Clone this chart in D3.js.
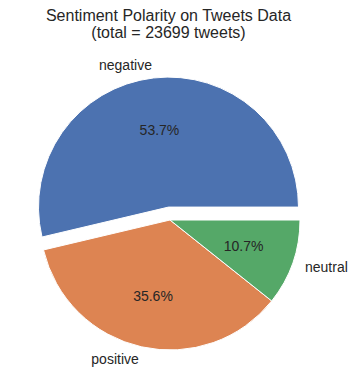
<!DOCTYPE html>
<html>
<head>
<meta charset="utf-8">
<script src="https://cdn.jsdelivr.net/npm/d3@7"></script>
<style>
html, body { margin: 0; padding: 0; background: #ffffff; }
svg { display: block; }
text { font-family: "Liberation Sans", Arial, sans-serif; fill: #262626; }
</style>
</head>
<body>
<div id="chart"></div>
<script>
const categories = ["negative", "positive", "neutral"];
const counts = [12726, 8437, 2536];
const colors = ["#4C72B0", "#DD8452", "#55A868"];
const explode = [0.1, 0, 0];
const titleLines = ["Sentiment Polarity on Tweets Data", "(total = 23699 tweets)"];

const W = 355, H = 390;
const cx = 170, cy = 220, R = 130;

const svg = d3.select("#chart").append("svg").attr("width", W).attr("height", H);

svg.append("text")
  .attr("x", 168.5).attr("y", 20.5)
  .attr("text-anchor", "middle")
  .style("font-size", "16px")
  .text(titleLines[0]);
svg.append("text")
  .attr("x", 168.5).attr("y", 37.5)
  .attr("text-anchor", "middle")
  .style("font-size", "16px")
  .text(titleLines[1]);

const total = d3.sum(counts);
const data = categories.map((c, i) => ({ name: c, value: counts[i], color: colors[i], explode: explode[i] }));

// matplotlib: start at 3 o'clock, counterclockwise
const pie = d3.pie().value(d => d.value).sort(null)
  .startAngle(Math.PI / 2).endAngle(Math.PI / 2 - 2 * Math.PI);
const arcs = pie(data);
const arc = d3.arc().innerRadius(0).outerRadius(R);

const g = svg.append("g").attr("transform", `translate(${cx},${cy})`);

arcs.forEach(a => {
  const mid = (a.startAngle + a.endAngle) / 2;
  const ux = Math.sin(mid), uy = -Math.cos(mid);
  const off = a.data.explode * R;
  const ox = ux * off, oy = uy * off;
  const wg = g.append("g").attr("transform", `translate(${ox},${oy})`);
  wg.append("path")
    .attr("d", arc(a))
    .attr("fill", a.data.color)
    .attr("stroke", "#ffffff")
    .attr("stroke-width", 1)
    .attr("stroke-linejoin", "round");
  // category label at 1.1 R
  const lx = ux * R * 1.1, ly = uy * R * 1.1;
  wg.append("text")
    .attr("x", lx).attr("y", ly)
    .attr("dy", "0.35em")
    .attr("text-anchor", lx < 0 ? "end" : "start")
    .style("font-size", "14px")
    .text(a.data.name);
  // pct label at 0.6 R
  const px = ux * R * 0.6, py = uy * R * 0.6;
  wg.append("text")
    .attr("x", px).attr("y", py)
    .attr("dy", "0.35em")
    .attr("text-anchor", "middle")
    .style("font-size", "14px")
    .text((a.data.value / total * 100).toFixed(1) + "%");
});
</script>
</body>
</html>
